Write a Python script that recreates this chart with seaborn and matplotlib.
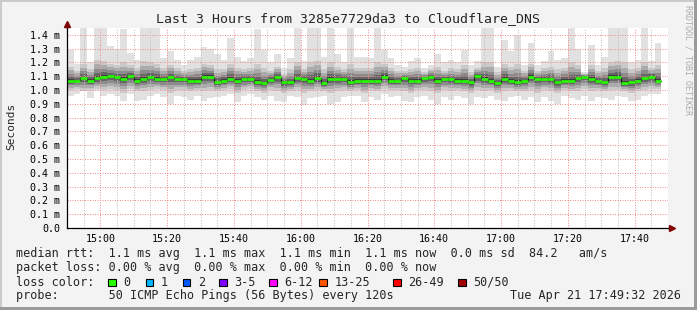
import numpy as np
import pandas as pd
import matplotlib
matplotlib.use("Agg")
import matplotlib.pyplot as plt
import matplotlib.dates as mdates
import matplotlib.patches as mpatches
import seaborn as sns

# ---------------- data (ms) ----------------
step_start = "2026-04-21 14:50"
median_ms = [1.067, 1.067, 1.084, 1.067, 1.084, 1.094, 1.099, 1.092, 1.080, 1.099,
             1.067, 1.080, 1.092, 1.080, 1.080, 1.092, 1.080, 1.080, 1.067, 1.067,
             1.096, 1.096, 1.057, 1.067, 1.080, 1.067, 1.080, 1.080, 1.055, 1.048,
             1.075, 1.092, 1.055, 1.055, 1.084, 1.080, 1.067, 1.084, 1.048, 1.080,
             1.080, 1.080, 1.055, 1.067, 1.067, 1.067, 1.067, 1.096, 1.067, 1.067,
             1.084, 1.067, 1.067, 1.084, 1.094, 1.067, 1.080, 1.080, 1.067, 1.067,
             1.055, 1.099, 1.080, 1.067, 1.048, 1.080, 1.067, 1.055, 1.067, 1.096,
             1.080, 1.080, 1.080, 1.055, 1.067, 1.067, 1.084, 1.096, 1.080, 1.067,
             1.055, 1.096, 1.096, 1.048, 1.055, 1.067, 1.084, 1.094, 1.067]
max_ms = [1.29, 1.19, 1.45, 1.20, 1.45, 1.45, 1.32, 1.30, 1.44, 1.27,
          1.22, 1.45, 1.45, 1.45, 1.23, 1.28, 1.22, 1.18, 1.22, 1.24,
          1.31, 1.30, 1.26, 1.22, 1.38, 1.24, 1.21, 1.23, 1.44, 1.29,
          1.20, 1.26, 1.16, 1.23, 1.45, 1.21, 1.45, 1.45, 1.24, 1.45,
          1.26, 1.20, 1.45, 1.24, 1.24, 1.23, 1.45, 1.29, 1.23, 1.18,
          1.17, 1.21, 1.23, 1.16, 1.18, 1.26, 1.20, 1.22, 1.20, 1.29,
          1.18, 1.21, 1.45, 1.45, 1.17, 1.36, 1.28, 1.40, 1.18, 1.34,
          1.18, 1.21, 1.28, 1.22, 1.23, 1.45, 1.30, 1.13, 1.33, 1.18,
          1.24, 1.45, 1.45, 1.45, 1.20, 1.22, 1.45, 1.21, 1.34]
hi_ms = [1.17, 1.14, 1.19, 1.15, 1.22, 1.21, 1.19, 1.18, 1.20, 1.18,
         1.16, 1.21, 1.20, 1.19, 1.16, 1.18, 1.16, 1.14, 1.15, 1.16,
         1.19, 1.18, 1.15, 1.15, 1.19, 1.16, 1.15, 1.16, 1.19, 1.16,
         1.14, 1.17, 1.12, 1.15, 1.20, 1.15, 1.20, 1.21, 1.15, 1.20,
         1.17, 1.15, 1.19, 1.16, 1.16, 1.16, 1.20, 1.19, 1.16, 1.14,
         1.14, 1.15, 1.16, 1.13, 1.15, 1.17, 1.14, 1.16, 1.15, 1.18,
         1.13, 1.16, 1.20, 1.20, 1.13, 1.19, 1.17, 1.19, 1.14, 1.19,
         1.14, 1.16, 1.17, 1.15, 1.16, 1.20, 1.18, 1.12, 1.18, 1.14,
         1.16, 1.20, 1.21, 1.20, 1.15, 1.16, 1.20, 1.16, 1.18]
lo_ms = [1.00, 1.01, 0.99, 1.00, 1.01, 1.00, 1.01, 1.00, 0.98, 1.01,
         0.99, 0.99, 1.00, 1.01, 1.00, 0.98, 1.00, 1.00, 0.99, 1.00,
         0.99, 1.00, 0.99, 1.00, 1.01, 0.98, 1.00, 1.01, 0.99, 0.98,
         1.00, 0.99, 0.98, 0.99, 1.00, 0.98, 0.99, 1.00, 0.99, 0.98,
         0.99, 1.00, 0.99, 1.00, 0.98, 1.00, 0.99, 1.01, 1.00, 1.00,
         0.99, 0.98, 1.00, 1.00, 0.99, 0.98, 1.00, 0.99, 1.00, 0.99,
         0.98, 1.00, 0.99, 1.00, 0.98, 0.99, 1.00, 0.99, 0.99, 1.00,
         0.98, 1.00, 0.99, 0.98, 1.00, 0.99, 0.99, 1.01, 0.99, 1.00,
         0.99, 1.00, 1.00, 0.99, 0.98, 0.99, 1.00, 1.01, 1.01]
min_ms = [0.955, 0.97, 0.99, 0.94, 0.99, 0.96, 0.97, 0.96, 0.92, 0.97,
          0.92, 0.93, 0.96, 0.97, 0.95, 0.90, 0.96, 0.95, 0.93, 0.96,
          0.92, 0.94, 0.95, 0.96, 0.97, 0.91, 0.96, 0.97, 0.95, 0.93,
          0.96, 0.92, 0.91, 0.96, 0.95, 0.89, 0.94, 0.95, 0.96, 0.90,
          0.91, 0.95, 0.96, 0.96, 0.91, 0.95, 0.93, 0.97, 0.95, 0.96,
          0.92, 0.91, 0.95, 0.96, 0.93, 0.90, 0.95, 0.93, 0.96, 0.94,
          0.90, 0.95, 0.94, 0.96, 0.93, 0.92, 0.95, 0.96, 0.93, 0.95,
          0.91, 0.95, 0.92, 0.90, 0.96, 0.94, 0.93, 0.96, 0.92, 0.95,
          0.94, 0.93, 0.96, 0.95, 0.92, 0.93, 0.96, 0.97, 0.97]

y_ticks = [0.0, 0.1, 0.2, 0.3, 0.4, 0.5, 0.6, 0.7, 0.8, 0.9, 1.0, 1.1, 1.2, 1.3, 1.4]
y_tick_labels = ["0.0", "0.1 m", "0.2 m", "0.3 m", "0.4 m", "0.5 m", "0.6 m", "0.7 m",
                 "0.8 m", "0.9 m", "1.0 m", "1.1 m", "1.2 m", "1.3 m", "1.4 m"]
x_tick_labels = ["15:00", "15:20", "15:40", "16:00", "16:20", "16:40", "17:00", "17:20", "17:40"]

title = "Last 3 Hours from 3285e7729da3 to Cloudflare_DNS"
y_label = "Seconds"
row_rtt = "median rtt:  1.1 ms avg  1.1 ms max  1.1 ms min  1.1 ms now  0.0 ms sd  84.2   am/s"
row_loss = "packet loss: 0.00 % avg  0.00 % max  0.00 % min  0.00 % now"
row_color = "loss color:"
loss_labels = ["0", "1", "2", "3-5", "6-12", "13-25", "26-49", "50/50"]
loss_colors = ["#26ff00", "#00b8ff", "#0059ff", "#7e00ff", "#ff00ff", "#ff5500", "#ff0000", "#a10000"]
row_probe = "probe:       50 ICMP Echo Pings (56 Bytes) every 120s"
stamp = "Tue Apr 21 17:49:32 2026"
watermark = "RRDTOOL / TOBI OETIKER"

assert len(median_ms) == len(max_ms) == len(hi_ms) == len(lo_ms) == len(min_ms)

# ---------------- figure ----------------
sns.set_style("white")
plt.rcParams['font.family'] = ['DejaVu Sans Mono']
W, H = 697, 310
BG = "#f3f3f3"
fig = plt.figure(figsize=(W / 100, H / 100), dpi=100, facecolor=BG)


def fx(px):
    return px / W


def fy(py):
    return 1 - py / H


L, R, T, B = 67, 668, 28, 228
ax = fig.add_axes([fx(L), fy(B), (R - L) / W, (B - T) / H])
ax.set_facecolor("white")

times = pd.date_range(step_start, periods=len(median_ms), freq="2min")
x0 = mdates.date2num(times)
w = 2 / 1440.0
xe = np.append(x0, x0[-1] + w)

med = np.array(median_ms)
mx = np.array(max_ms)
mn = np.array(min_ms)
hi = np.array(hi_ms)
lo = np.array(lo_ms)


def ext(a):
    return np.append(a, a[-1])


# smoke
ax.fill_between(xe, ext(mn), ext(mx), step="post", color="#e1e1e1", lw=0, zorder=1)
for f, c in [(1.0, "#c9c9c9"), (0.75, "#ababab"), (0.5, "#8b8b8b"),
             (0.3, "#666666"), (0.12, "#3e3e3e")]:
    top = med + f * (hi - med)
    bot = med - f * (med - lo)
    ax.fill_between(xe, ext(bot), ext(top), step="post", color=c, lw=0, zorder=1)

# median
sns.lineplot(x=xe, y=ext(med), drawstyle="steps-post", color="#1a1a1a", lw=0.8,
             ax=ax, zorder=3)
ax.hlines(med, x0, x0 + w, color="#26ff00", lw=1.9, zorder=4)

# axes limits / ticks
start = mdates.date2num(pd.Timestamp("2026-04-21 14:50"))
ax.set_xlim(start, start + 180 / 1440.0)
ax.set_ylim(0, 1.45)
day = "2026-04-21 "
maj = mdates.date2num(pd.to_datetime([day + t for t in x_tick_labels]))
ax.set_xticks(maj)
ax.set_xticklabels(x_tick_labels)
mins = pd.date_range(day + "14:55", day + "17:45", freq="5min")
mins = mins[mins.minute % 20 != 0]
ax.set_xticks(mdates.date2num(mins), minor=True)
ax.set_yticks(y_ticks)
ax.set_yticklabels(y_tick_labels)

ax.set_axisbelow(False)
ax.grid(which="major", axis="both", color="#f08c8c", lw=0.72, ls=(0, (1, 1.5)))
ax.grid(which="minor", axis="x", color="#bdbdbd", lw=0.72, ls=(0, (1, 1.5)))
ax.tick_params(axis="both", which="major", length=2, width=0.7, color="#777777",
               labelsize=7.2, labelcolor="black")
ax.tick_params(axis="y", which="major", pad=3)
ax.tick_params(axis="x", which="major", pad=2.3)
ax.tick_params(which="minor", length=0)
for s in ["top", "right"]:
    ax.spines[s].set_visible(False)
for s in ["left", "bottom"]:
    ax.spines[s].set_color("black")
    ax.spines[s].set_linewidth(0.9)
    ax.spines[s].set_zorder(5)

# axis arrows
ax.plot([0, 0], [1, 1.02], color="black", lw=0.9, transform=ax.transAxes, clip_on=False, zorder=5)
ax.plot([1, 1.004], [0, 0], color="black", lw=0.9, transform=ax.transAxes, clip_on=False, zorder=5)
ax.plot([0], [1.022], marker="^", ms=4, color="#7f0000", transform=ax.transAxes,
        clip_on=False, zorder=6)
ax.plot([1.006], [0], marker=">", ms=4, color="#7f0000", transform=ax.transAxes,
        clip_on=False, zorder=6)

# texts
fig.text(fx(348.5), fy(19), title, ha="center", va="center", fontsize=9.5)
fig.text(fx(11), fy(126.5), y_label, rotation=90, ha="center", va="center", fontsize=8)
fig.text(fx(688), fy(60), watermark, rotation=270, ha="center", va="center",
         fontsize=6, color="#ababab")

LX = 16
fig.text(fx(LX), fy(254), row_rtt, ha="left", va="center", fontsize=8.5)
fig.text(fx(LX), fy(268), row_loss, ha="left", va="center", fontsize=8.5)
fig.text(fx(LX), fy(282), row_color, ha="left", va="center", fontsize=8.5)
box_x = [108, 145.7, 182.7, 219.3, 269.3, 319.3, 393.3, 458.3]
for bx, lab, col in zip(box_x, loss_labels, loss_colors):
    fig.add_artist(mpatches.Rectangle((fx(bx), fy(286)), 7.5 / W, 7.5 / H,
                                      transform=fig.transFigure, facecolor=col,
                                      edgecolor="black", lw=0.8))
    fig.text(fx(bx + 15), fy(282), lab, ha="left", va="center", fontsize=8.5)
fig.text(fx(LX), fy(296), row_probe, ha="left", va="center", fontsize=8.5)
fig.text(fx(681), fy(296), stamp, ha="right", va="center", fontsize=8.5)

# frame bevel
for (x, y, ww, hh, c) in [(0, H - 2, W, 2, "#cbcbcb"), (0, 0, 2, H, "#cbcbcb"),
                          (0, 0, W, 3, "#9b9b9b"), (W - 3, 0, 3, H, "#9b9b9b")]:
    fig.add_artist(mpatches.Rectangle((x / W, y / H), ww / W, hh / H,
                                      transform=fig.transFigure, facecolor=c,
                                      edgecolor="none", lw=0))

fig.savefig("out.png", dpi=100, facecolor=BG)
